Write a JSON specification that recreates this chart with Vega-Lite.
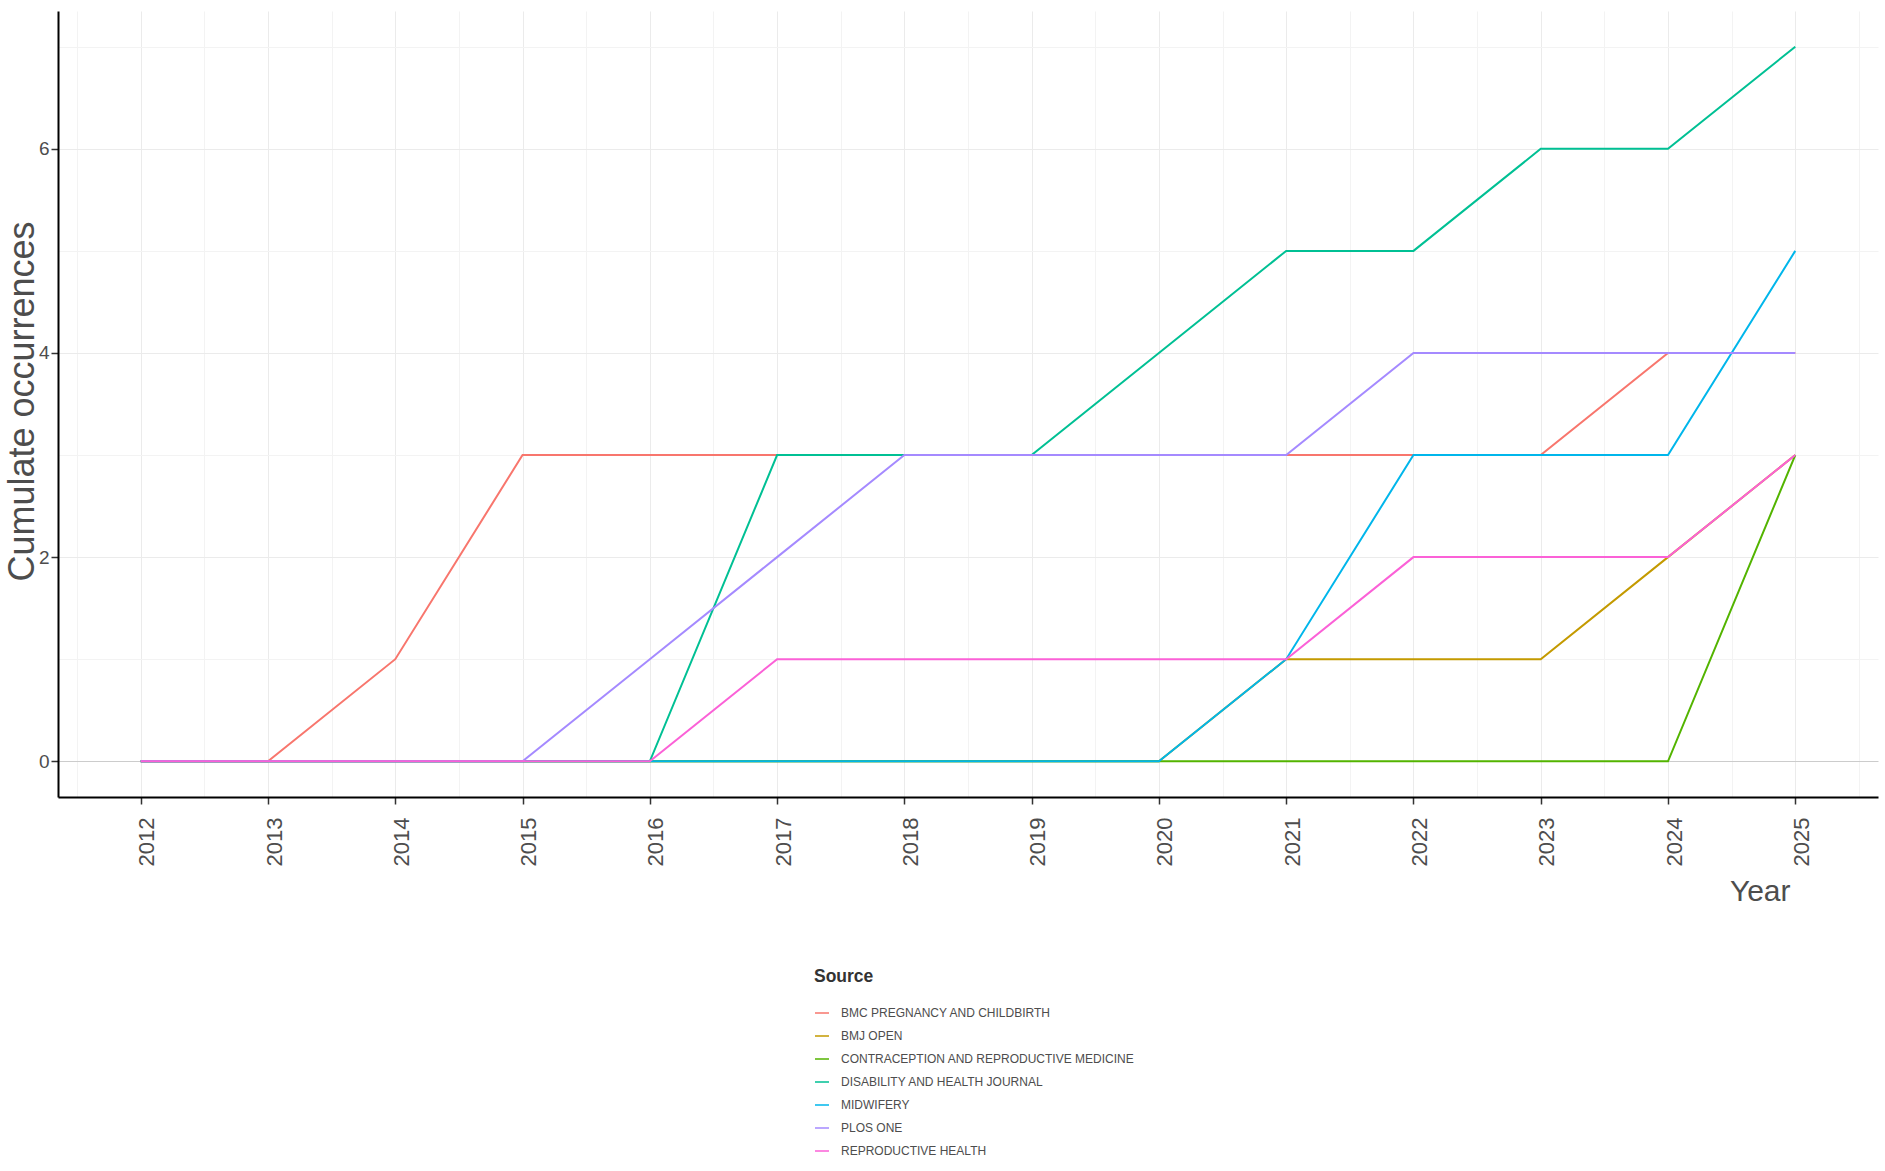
{
  "$schema": "https://vega.github.io/schema/vega-lite/v6.json",
  "width": 1820,
  "height": 786,
  "autosize": "none",
  "padding": {"left": 58, "top": 11, "right": 7, "bottom": 374},
  "background": "white",
  "data": {
    "values": [
      {"Source": "BMC PREGNANCY AND CHILDBIRTH", "Year": 2012, "Value": 0},
      {"Source": "BMC PREGNANCY AND CHILDBIRTH", "Year": 2013, "Value": 0},
      {"Source": "BMC PREGNANCY AND CHILDBIRTH", "Year": 2014, "Value": 1},
      {"Source": "BMC PREGNANCY AND CHILDBIRTH", "Year": 2015, "Value": 3},
      {"Source": "BMC PREGNANCY AND CHILDBIRTH", "Year": 2016, "Value": 3},
      {"Source": "BMC PREGNANCY AND CHILDBIRTH", "Year": 2017, "Value": 3},
      {"Source": "BMC PREGNANCY AND CHILDBIRTH", "Year": 2018, "Value": 3},
      {"Source": "BMC PREGNANCY AND CHILDBIRTH", "Year": 2019, "Value": 3},
      {"Source": "BMC PREGNANCY AND CHILDBIRTH", "Year": 2020, "Value": 3},
      {"Source": "BMC PREGNANCY AND CHILDBIRTH", "Year": 2021, "Value": 3},
      {"Source": "BMC PREGNANCY AND CHILDBIRTH", "Year": 2022, "Value": 3},
      {"Source": "BMC PREGNANCY AND CHILDBIRTH", "Year": 2023, "Value": 3},
      {"Source": "BMC PREGNANCY AND CHILDBIRTH", "Year": 2024, "Value": 4},
      {"Source": "BMC PREGNANCY AND CHILDBIRTH", "Year": 2025, "Value": 4},
      {"Source": "BMJ OPEN", "Year": 2012, "Value": 0},
      {"Source": "BMJ OPEN", "Year": 2013, "Value": 0},
      {"Source": "BMJ OPEN", "Year": 2014, "Value": 0},
      {"Source": "BMJ OPEN", "Year": 2015, "Value": 0},
      {"Source": "BMJ OPEN", "Year": 2016, "Value": 0},
      {"Source": "BMJ OPEN", "Year": 2017, "Value": 0},
      {"Source": "BMJ OPEN", "Year": 2018, "Value": 0},
      {"Source": "BMJ OPEN", "Year": 2019, "Value": 0},
      {"Source": "BMJ OPEN", "Year": 2020, "Value": 0},
      {"Source": "BMJ OPEN", "Year": 2021, "Value": 1},
      {"Source": "BMJ OPEN", "Year": 2022, "Value": 1},
      {"Source": "BMJ OPEN", "Year": 2023, "Value": 1},
      {"Source": "BMJ OPEN", "Year": 2024, "Value": 2},
      {"Source": "BMJ OPEN", "Year": 2025, "Value": 3},
      {"Source": "CONTRACEPTION AND REPRODUCTIVE MEDICINE", "Year": 2012, "Value": 0},
      {"Source": "CONTRACEPTION AND REPRODUCTIVE MEDICINE", "Year": 2013, "Value": 0},
      {"Source": "CONTRACEPTION AND REPRODUCTIVE MEDICINE", "Year": 2014, "Value": 0},
      {"Source": "CONTRACEPTION AND REPRODUCTIVE MEDICINE", "Year": 2015, "Value": 0},
      {"Source": "CONTRACEPTION AND REPRODUCTIVE MEDICINE", "Year": 2016, "Value": 0},
      {"Source": "CONTRACEPTION AND REPRODUCTIVE MEDICINE", "Year": 2017, "Value": 0},
      {"Source": "CONTRACEPTION AND REPRODUCTIVE MEDICINE", "Year": 2018, "Value": 0},
      {"Source": "CONTRACEPTION AND REPRODUCTIVE MEDICINE", "Year": 2019, "Value": 0},
      {"Source": "CONTRACEPTION AND REPRODUCTIVE MEDICINE", "Year": 2020, "Value": 0},
      {"Source": "CONTRACEPTION AND REPRODUCTIVE MEDICINE", "Year": 2021, "Value": 0},
      {"Source": "CONTRACEPTION AND REPRODUCTIVE MEDICINE", "Year": 2022, "Value": 0},
      {"Source": "CONTRACEPTION AND REPRODUCTIVE MEDICINE", "Year": 2023, "Value": 0},
      {"Source": "CONTRACEPTION AND REPRODUCTIVE MEDICINE", "Year": 2024, "Value": 0},
      {"Source": "CONTRACEPTION AND REPRODUCTIVE MEDICINE", "Year": 2025, "Value": 3},
      {"Source": "DISABILITY AND HEALTH JOURNAL", "Year": 2012, "Value": 0},
      {"Source": "DISABILITY AND HEALTH JOURNAL", "Year": 2013, "Value": 0},
      {"Source": "DISABILITY AND HEALTH JOURNAL", "Year": 2014, "Value": 0},
      {"Source": "DISABILITY AND HEALTH JOURNAL", "Year": 2015, "Value": 0},
      {"Source": "DISABILITY AND HEALTH JOURNAL", "Year": 2016, "Value": 0},
      {"Source": "DISABILITY AND HEALTH JOURNAL", "Year": 2017, "Value": 3},
      {"Source": "DISABILITY AND HEALTH JOURNAL", "Year": 2018, "Value": 3},
      {"Source": "DISABILITY AND HEALTH JOURNAL", "Year": 2019, "Value": 3},
      {"Source": "DISABILITY AND HEALTH JOURNAL", "Year": 2020, "Value": 4},
      {"Source": "DISABILITY AND HEALTH JOURNAL", "Year": 2021, "Value": 5},
      {"Source": "DISABILITY AND HEALTH JOURNAL", "Year": 2022, "Value": 5},
      {"Source": "DISABILITY AND HEALTH JOURNAL", "Year": 2023, "Value": 6},
      {"Source": "DISABILITY AND HEALTH JOURNAL", "Year": 2024, "Value": 6},
      {"Source": "DISABILITY AND HEALTH JOURNAL", "Year": 2025, "Value": 7},
      {"Source": "MIDWIFERY", "Year": 2012, "Value": 0},
      {"Source": "MIDWIFERY", "Year": 2013, "Value": 0},
      {"Source": "MIDWIFERY", "Year": 2014, "Value": 0},
      {"Source": "MIDWIFERY", "Year": 2015, "Value": 0},
      {"Source": "MIDWIFERY", "Year": 2016, "Value": 0},
      {"Source": "MIDWIFERY", "Year": 2017, "Value": 0},
      {"Source": "MIDWIFERY", "Year": 2018, "Value": 0},
      {"Source": "MIDWIFERY", "Year": 2019, "Value": 0},
      {"Source": "MIDWIFERY", "Year": 2020, "Value": 0},
      {"Source": "MIDWIFERY", "Year": 2021, "Value": 1},
      {"Source": "MIDWIFERY", "Year": 2022, "Value": 3},
      {"Source": "MIDWIFERY", "Year": 2023, "Value": 3},
      {"Source": "MIDWIFERY", "Year": 2024, "Value": 3},
      {"Source": "MIDWIFERY", "Year": 2025, "Value": 5},
      {"Source": "PLOS ONE", "Year": 2012, "Value": 0},
      {"Source": "PLOS ONE", "Year": 2013, "Value": 0},
      {"Source": "PLOS ONE", "Year": 2014, "Value": 0},
      {"Source": "PLOS ONE", "Year": 2015, "Value": 0},
      {"Source": "PLOS ONE", "Year": 2016, "Value": 1},
      {"Source": "PLOS ONE", "Year": 2017, "Value": 2},
      {"Source": "PLOS ONE", "Year": 2018, "Value": 3},
      {"Source": "PLOS ONE", "Year": 2019, "Value": 3},
      {"Source": "PLOS ONE", "Year": 2020, "Value": 3},
      {"Source": "PLOS ONE", "Year": 2021, "Value": 3},
      {"Source": "PLOS ONE", "Year": 2022, "Value": 4},
      {"Source": "PLOS ONE", "Year": 2023, "Value": 4},
      {"Source": "PLOS ONE", "Year": 2024, "Value": 4},
      {"Source": "PLOS ONE", "Year": 2025, "Value": 4},
      {"Source": "REPRODUCTIVE HEALTH", "Year": 2012, "Value": 0},
      {"Source": "REPRODUCTIVE HEALTH", "Year": 2013, "Value": 0},
      {"Source": "REPRODUCTIVE HEALTH", "Year": 2014, "Value": 0},
      {"Source": "REPRODUCTIVE HEALTH", "Year": 2015, "Value": 0},
      {"Source": "REPRODUCTIVE HEALTH", "Year": 2016, "Value": 0},
      {"Source": "REPRODUCTIVE HEALTH", "Year": 2017, "Value": 1},
      {"Source": "REPRODUCTIVE HEALTH", "Year": 2018, "Value": 1},
      {"Source": "REPRODUCTIVE HEALTH", "Year": 2019, "Value": 1},
      {"Source": "REPRODUCTIVE HEALTH", "Year": 2020, "Value": 1},
      {"Source": "REPRODUCTIVE HEALTH", "Year": 2021, "Value": 1},
      {"Source": "REPRODUCTIVE HEALTH", "Year": 2022, "Value": 2},
      {"Source": "REPRODUCTIVE HEALTH", "Year": 2023, "Value": 2},
      {"Source": "REPRODUCTIVE HEALTH", "Year": 2024, "Value": 2},
      {"Source": "REPRODUCTIVE HEALTH", "Year": 2025, "Value": 3}
    ]
  },
  "layer": [
    {
      "mark": {"type": "rule", "strokeOpacity": 0},
      "encoding": {
        "x": {
          "field": "Year",
          "type": "quantitative",
          "scale": {"domain": [2011.35, 2025.65], "nice": false, "zero": false},
          "axis": {
            "orient": "bottom",
            "values": [2011.5, 2012.5, 2013.5, 2014.5, 2015.5, 2016.5, 2017.5, 2018.5, 2019.5, 2020.5, 2021.5, 2022.5, 2023.5, 2024.5, 2025.5],
            "labels": false,
            "ticks": false,
            "domain": false,
            "title": null,
            "grid": true,
            "gridColor": "#F3F3F3",
            "gridWidth": 1
          }
        }
      }
    },
    {
      "mark": {"type": "line", "strokeWidth": 2, "interpolate": "linear"},
      "encoding": {
        "x": {
          "field": "Year",
          "type": "quantitative",
          "scale": {"domain": [2011.35, 2025.65], "nice": false, "zero": false},
          "axis": {
            "orient": "bottom",
            "title": "Year",
            "values": [2012, 2013, 2014, 2015, 2016, 2017, 2018, 2019, 2020, 2021, 2022, 2023, 2024, 2025],
            "format": "d",
            "labelOverlap": false,
            "labelFlush": false,
            "labelAngle": 270,
            "labelFont": "Liberation Sans",
            "labelFontSize": 22,
            "labelColor": "#4D4D4D",
            "labelPadding": 13,
            "labelOffset": 6,
            "tickSize": 7,
            "tickWidth": 1.5,
            "tickColor": "#333333",
            "grid": true,
            "gridColor": "#EBEBEB",
            "gridWidth": 1,
            "domainColor": "#000000",
            "domainWidth": 2,
            "titleFont": "Liberation Sans",
            "titleFontSize": 30,
            "titleFontWeight": "normal",
            "titleColor": "#4D4D4D",
            "titleX": 1732,
            "titleY": 103,
            "titleAlign": "right",
            "titleBaseline": "alphabetic"
          }
        },
        "y": {
          "field": "Value",
          "type": "quantitative",
          "scale": {"domain": [-0.35, 7.35], "nice": false, "zero": false},
          "axis": {
            "title": "Cumulate occurrences",
            "values": [0, 1, 2, 3, 4, 5, 6, 7],
            "labelExpr": "datum.value % 2 === 0 ? datum.label : ''",
            "labelOverlap": false,
            "labelFont": "Liberation Sans",
            "labelFontSize": 19,
            "labelColor": "#4D4D4D",
            "labelPadding": 2,
            "tickSize": 7,
            "tickWidth": 1.5,
            "tickColor": "#333333",
            "tickOpacity": {"condition": {"test": "datum.value % 2 !== 0", "value": 0}, "value": 1},
            "grid": true,
            "gridColor": {"condition": [{"test": "datum.value === 0", "value": "#CCCCCC"}, {"test": "datum.value % 2 !== 0", "value": "#F3F3F3"}], "value": "#EBEBEB"},
            "gridWidth": 1,
            "domainColor": "#000000",
            "domainWidth": 2,
            "titleFont": "Liberation Sans",
            "titleFontSize": 36,
            "titleFontWeight": "normal",
            "titleColor": "#4D4D4D",
            "titleAngle": 270,
            "titleX": -36,
            "titleY": 390,
            "titleAlign": "center",
            "titleBaseline": "middle"
          }
        },
        "color": {
          "field": "Source",
          "type": "nominal",
          "scale": {
            "domain": ["BMC PREGNANCY AND CHILDBIRTH", "BMJ OPEN", "CONTRACEPTION AND REPRODUCTIVE MEDICINE", "DISABILITY AND HEALTH JOURNAL", "MIDWIFERY", "PLOS ONE", "REPRODUCTIVE HEALTH"],
            "range": ["#F8766D", "#C49A00", "#53B400", "#00C094", "#00B6EB", "#A58AFF", "#FB61D7"]
          },
          "legend": {
            "title": "Source",
            "orient": "none",
            "legendX": 756,
            "legendY": 956.5,
            "padding": 0,
            "titleFont": "Liberation Sans",
            "titleFontSize": 17.5,
            "titleFontWeight": "bold",
            "titleColor": "#333333",
            "titlePadding": 20,
            "labelFont": "Liberation Sans",
            "labelFontSize": 12,
            "labelColor": "#4D4D4D",
            "labelOffset": 11,
            "labelLimit": 600,
            "symbolType": "stroke",
            "symbolSize": 196,
            "symbolStrokeWidth": 2,
            "symbolOpacity": 0.75,
            "rowPadding": 9
          }
        }
      }
    }
  ],
  "resolve": {"axis": {"x": "independent"}},
  "config": {"view": {"stroke": null}}
}
